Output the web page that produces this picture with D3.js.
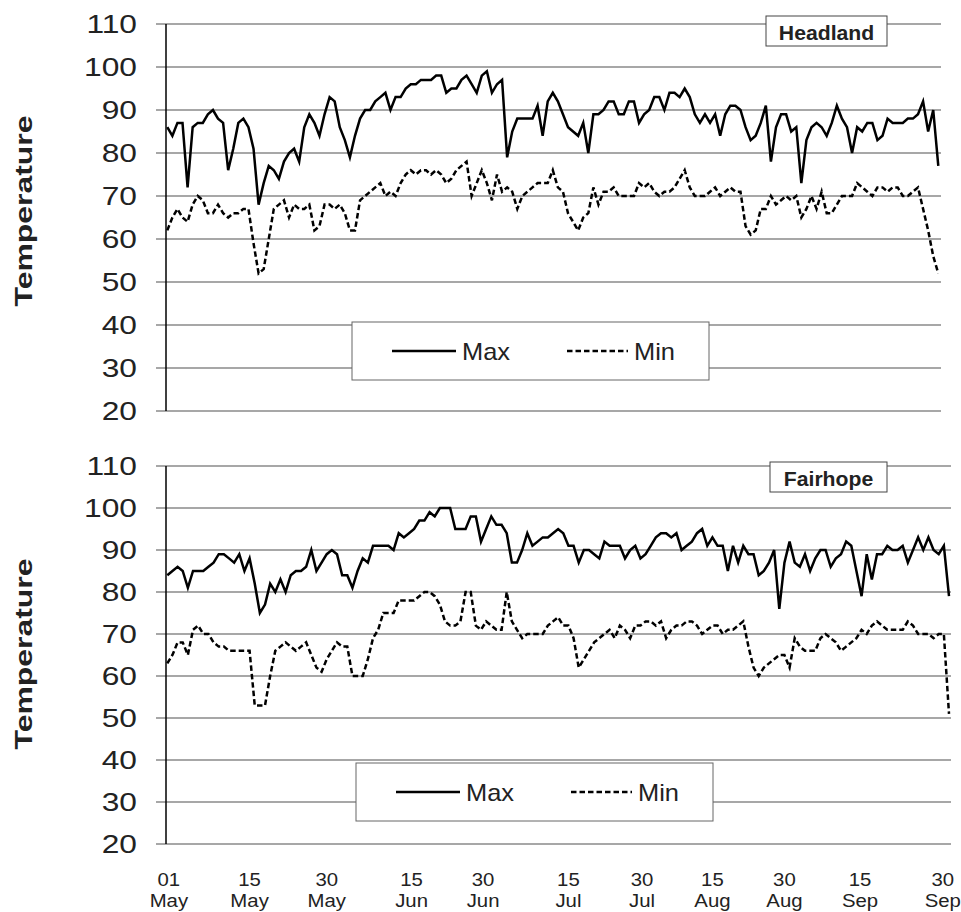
<!DOCTYPE html>
<html>
<head>
<meta charset="utf-8">
<script src="https://cdn.jsdelivr.net/npm/d3@7"></script>
<style>
  body { margin: 0; background: #fff; }
  text { font-family: "Liberation Sans", Arial, sans-serif; fill: #222; }
</style>
</head>
<body>
<script>
// daily temperatures, 01 May .. 30 Sep (153 days)
var headlandMax = [86,84,87,87,72,86,87,87,89,90,88,87,76,81,87,88,86,81,68,73,77,76,74,78,80,81,78,86,89,87,84,89,93,92,86,83,79,84,88,90,90,92,93,94,90,93,93,95,96,96,97,97,97,98,98,94,95,95,97,98,96,94,98,99,94,96,97,79,85,88,88,88,88,91,84,92,94,92,89,86,85,84,87,80,89,89,90,92,92,89,89,92,92,87,89,90,93,93,90,94,94,93,95,93,89,87,89,87,89,84,89,91,91,90,86,83,84,87,91,78,86,89,89,85,86,73,83,86,87,86,84,87,91,88,86,80,86,85,87,87,83,84,88,87,87,87,88,88,89,92,85,90,77];
var headlandMin = [62,65,67,65,64,68,70,69,66,66,68,66,65,66,66,67,67,59,52,53,60,67,68,69,65,68,67,67,68,62,63,68,68,67,68,66,62,62,69,70,71,72,73,70,71,70,73,75,76,75,76,76,75,76,75,73,74,76,77,78,70,73,76,73,69,75,71,72,71,67,70,71,72,73,73,73,76,72,71,66,64,62,65,66,72,68,71,71,72,70,70,70,70,73,72,73,71,70,71,71,72,74,76,72,70,70,70,71,72,70,71,72,71,71,63,61,62,67,67,70,68,69,70,69,70,65,67,70,67,71,66,66,68,70,70,70,73,72,71,70,72,72,71,72,72,70,70,71,72,67,62,56,52];
var fairhopeMax = [84,85,86,85,81,85,85,85,86,87,89,89,88,87,89,85,88,82,75,77,82,80,83,80,84,85,85,86,90,85,87,89,90,89,84,84,81,85,88,87,91,91,91,91,90,94,93,94,95,97,97,99,98,100,100,100,95,95,95,98,98,92,95,98,96,96,94,87,87,90,94,91,92,93,93,94,95,94,91,91,87,90,90,89,88,92,91,91,91,88,90,91,88,89,91,93,94,94,93,94,90,91,92,94,95,91,93,91,91,85,91,87,91,89,89,84,85,87,90,76,87,92,87,86,89,85,88,90,90,86,88,89,92,91,85,79,89,83,89,89,91,90,90,91,87,90,93,90,93,90,89,91,79];
var fairhopeMin = [63,65,68,68,65,71,72,70,70,68,67,67,66,66,66,66,66,53,53,53,60,66,67,68,67,66,67,68,65,62,61,64,66,68,67,67,60,60,60,64,69,71,75,75,75,78,78,78,78,79,80,80,79,77,73,72,72,73,80,80,72,71,73,72,71,71,80,73,71,69,70,70,70,70,72,73,74,72,72,69,62,64,66,68,69,70,71,69,72,71,69,72,72,73,73,72,73,69,71,72,72,73,73,72,70,71,72,72,70,71,71,72,73,67,62,60,62,63,64,65,65,62,69,67,66,66,66,69,70,69,68,66,67,68,69,71,70,72,73,72,71,71,71,71,73,72,70,70,70,69,70,70,51];

var yTicks = [20, 30, 40, 50, 60, 70, 80, 90, 100, 110];
var xTickDays = [0.3, 16, 31, 47.5, 61.4, 78, 92.3, 106, 120, 134.7, 150.8];
var xTickDay = ["01", "15", "30", "15", "30", "15", "30", "15", "30", "15", "30"];
var xTickMonth = ["May", "May", "May", "Jun", "Jun", "Jul", "Jul", "Aug", "Aug", "Sep", "Sep"];

var width = 961, height = 912;

var svg = d3.select("body").append("svg")
    .attr("width", width)
    .attr("height", height);

// one panel = gridlines + axis + two series + legend + title box
function drawPanel(p) {
    var g = svg.append("g").attr("class", "panel");
    var x = d3.scaleLinear().domain([0, 152]).range([p.x0, p.x1]);
    var y = d3.scaleLinear().domain([20, 110]).range([p.bottom, p.top]);

    // horizontal gridlines (also act as the left ticks)
    g.append("g").selectAll("line").data(yTicks).enter().append("line")
        .attr("x1", p.left - 10).attr("x2", p.right)
        .attr("y1", function (d) { return y(d); })
        .attr("y2", function (d) { return y(d); })
        .attr("stroke", "#8a8a8a").attr("stroke-width", 1.5);

    // the chart's lettering is a bit wider than Arial, hence scale(x, 1)
    g.append("g").selectAll("text").data(yTicks).enter().append("text")
        .attr("transform", function (d) { return "translate(137," + y(d) + ") scale(1.22,1)"; })
        .attr("dy", "0.36em")
        .attr("text-anchor", "end")
        .style("font-size", "26px")
        .text(function (d) { return d; });

    // vertical axis line
    g.append("line")
        .attr("x1", p.left).attr("x2", p.left)
        .attr("y1", p.top).attr("y2", p.bottom)
        .attr("stroke", "#000").attr("stroke-width", 1.5);

    g.append("text")
        .attr("transform", "translate(32," + p.labelY + ") rotate(-90) scale(1.33,1)")
        .attr("text-anchor", "middle")
        .style("font-size", "24px")
        .style("font-weight", "bold")
        .text("Temperature");

    var line = d3.line()
        .x(function (d, i) { return x(i); })
        .y(function (d) { return y(d); });

    g.append("path").datum(p.max)
        .attr("d", line)
        .attr("fill", "none")
        .attr("stroke", "#000")
        .attr("stroke-width", 2.5);

    g.append("path").datum(p.min)
        .attr("d", line)
        .attr("fill", "none")
        .attr("stroke", "#000")
        .attr("stroke-width", 2.5)
        .attr("stroke-dasharray", "5.5,3");

    // legend
    var lg = g.append("g").attr("transform", "translate(" + p.legend[0] + "," + p.legend[1] + ")");
    lg.append("rect")
        .attr("width", 357).attr("height", 58)
        .attr("fill", "#fff").attr("stroke", "#666").attr("stroke-width", 1);
    lg.append("line").attr("x1", 40).attr("x2", 104).attr("y1", 29).attr("y2", 29)
        .attr("stroke", "#000").attr("stroke-width", 2.5);
    lg.append("text").attr("transform", "translate(110,29) scale(1.06,1)").attr("dy", "0.36em")
        .style("font-size", "24px").text("Max");
    lg.append("line").attr("x1", 215).attr("x2", 276).attr("y1", 29).attr("y2", 29)
        .attr("stroke", "#000").attr("stroke-width", 2.5).attr("stroke-dasharray", "5.5,3");
    lg.append("text").attr("transform", "translate(282,29) scale(1.06,1)").attr("dy", "0.36em")
        .style("font-size", "24px").text("Min");

    // station name box
    var tg = g.append("g").attr("transform", "translate(" + p.title[0] + "," + p.title[1] + ")");
    tg.append("rect").attr("width", p.title[2]).attr("height", 30)
        .attr("fill", "#fff").attr("stroke", "#444").attr("stroke-width", 1);
    tg.append("text")
        .attr("transform", "translate(" + (p.title[2] / 2) + ",24) scale(1.06,1)")
        .attr("text-anchor", "middle")
        .style("font-size", "20px").style("font-weight", "bold")
        .text(p.name);

    return x;
}

drawPanel({
    name: "Headland", max: headlandMax, min: headlandMin,
    left: 166, right: 941, top: 24, bottom: 411, labelY: 211,
    x0: 167.3, x1: 938.3,
    legend: [352, 322], title: [766, 16, 121]
});

var xb = drawPanel({
    name: "Fairhope", max: fairhopeMax, min: fairhopeMin,
    left: 166, right: 951, top: 466, bottom: 844, labelY: 654,
    x0: 167.3, x1: 949,
    legend: [356, 763], title: [770, 462, 117]
});

// date labels under the lower panel
var xl = svg.append("g").selectAll("g").data(xTickDays).enter().append("g")
    .attr("transform", function (d) { return "translate(" + xb(d) + ",0) scale(1.1,1)"; });
xl.append("text")
    .attr("y", 886)
    .attr("text-anchor", "middle")
    .style("font-size", "18.5px")
    .text(function (d, i) { return xTickDay[i]; });
xl.append("text")
    .attr("y", 907)
    .attr("text-anchor", "middle")
    .style("font-size", "18.5px")
    .text(function (d, i) { return xTickMonth[i]; });
</script>
</body>
</html>
